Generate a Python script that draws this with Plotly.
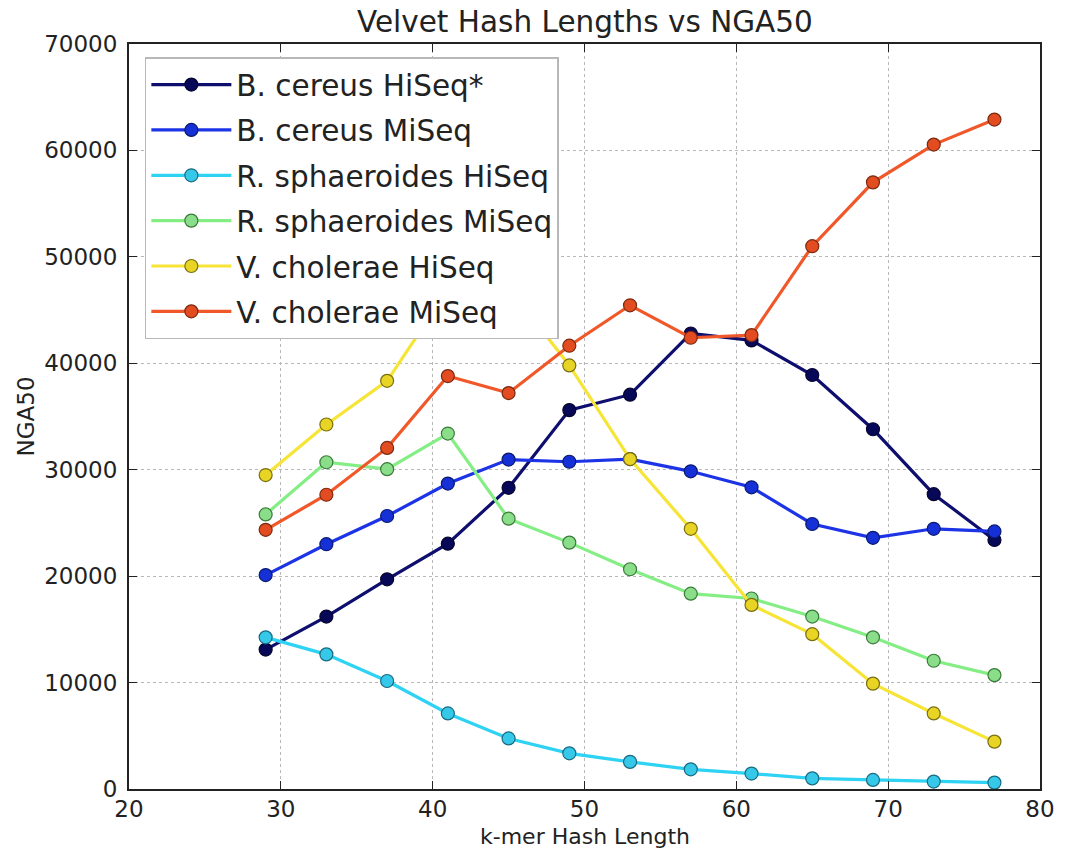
import plotly.graph_objects as go

kmer = [29, 33, 37, 41, 45, 49, 53, 57, 61, 65, 69, 73, 77]
bc_hiseq = [13100, 16200, 19700, 23050, 28300, 35600, 37050, 42800, 42150, 38900, 33800, 27700, 23400]
bc_miseq = [20100, 23000, 25650, 28700, 30950, 30750, 31000, 29850, 28350, 24900, 23600, 24450, 24200]
rs_hiseq = [14250, 12650, 10150, 7100, 4750, 3350, 2550, 1850, 1450, 1000, 850, 700, 600]
rs_miseq = [25800, 30700, 30050, 33400, 25400, 23150, 20650, 18350, 17900, 16200, 14250, 12050, 10700]
vc_hiseq = [29500, 34250, 38350, 46900, 47150, 39800, 31000, 24450, 17300, 14550, 9900, 7100, 4450]
vc_miseq = [24350, 27650, 32050, 38800, 37200, 41650, 45450, 42400, 42650, 51000, 57000, 60550, 62900]

series_names = ["B. cereus HiSeq*", "B. cereus MiSeq", "R. sphaeroides HiSeq",
                "R. sphaeroides MiSeq", "V. cholerae HiSeq", "V. cholerae MiSeq"]
series_values = [bc_hiseq, bc_miseq, rs_hiseq, rs_miseq, vc_hiseq, vc_miseq]
line_colors = ["#0e0e6e", "#1c34e6", "#2ed2f2", "#84ee84", "#f6e436", "#f0582a"]
marker_colors = ["#080858", "#1530d6", "#36c8e8", "#8ade8a", "#e8d424", "#e24c20"]
edge_colors = ["#05052e", "#0a1a70", "#1a6a80", "#3a7a3a", "#7a6e10", "#7a2a10"]

FONT = "DejaVu Sans"
fig = go.Figure()
for i, (name, vals) in enumerate(zip(series_names, series_values)):
    fig.add_trace(go.Scatter(
        x=kmer, y=vals, name=name, mode="lines+markers",
        legendgroup=f"g{i}",
        line=dict(color=line_colors[i], width=3.2),
        marker=dict(size=13, color=marker_colors[i],
                    line=dict(color=edge_colors[i], width=1.2)),
    ))

axis_common = dict(
    showgrid=True, gridcolor="#b8b8b8", griddash="dot", gridwidth=1,
    showline=True, linecolor="#222222", linewidth=2, mirror="ticks",
    ticks="inside", ticklen=8, tickwidth=1.2, tickcolor="#222222",
    zeroline=False, tickfont=dict(family=FONT, size=23, color="#222222"),
)

fig.update_layout(
    width=1067, height=851,
    margin=dict(l=129, r=20, t=44, b=62),
    paper_bgcolor="white", plot_bgcolor="white",
    showlegend=True,
    legend=dict(
        x=0.0174, y=0.982, xanchor="left", yanchor="top",
        bgcolor="white", bordercolor="#b8b8b8", borderwidth=1.5,
        font=dict(family=FONT, size=29.5, color="#222222"),
        tracegroupgap=4, itemwidth=80,
    ),
    xaxis=dict(range=[20, 80], tickvals=[20, 30, 40, 50, 60, 70, 80],
               ticklabelstandoff=-2, **axis_common),
    yaxis=dict(range=[0, 70000], tickvals=[0, 10000, 20000, 30000, 40000, 50000, 60000, 70000],
               tickformat="d", ticklabelstandoff=5, **axis_common),
    annotations=[
        dict(text="Velvet Hash Lengths vs NGA50", xref="paper", yref="paper",
             x=0.5, y=1, yshift=22, xanchor="center", yanchor="middle", showarrow=False,
             font=dict(family=FONT, size=29.5, color="#222222")),
        dict(text="k-mer Hash Length", xref="paper", yref="paper",
             x=0.5, y=0, yshift=-47, xanchor="center", yanchor="middle", showarrow=False,
             font=dict(family=FONT, size=22, color="#222222")),
        dict(text="NGA50", xref="paper", yref="paper", textangle=-90,
             x=0, y=0.5, xshift=-104, xanchor="center", yanchor="middle", showarrow=False,
             font=dict(family=FONT, size=23, color="#222222")),
    ],
)

fig.write_html("out.html")
